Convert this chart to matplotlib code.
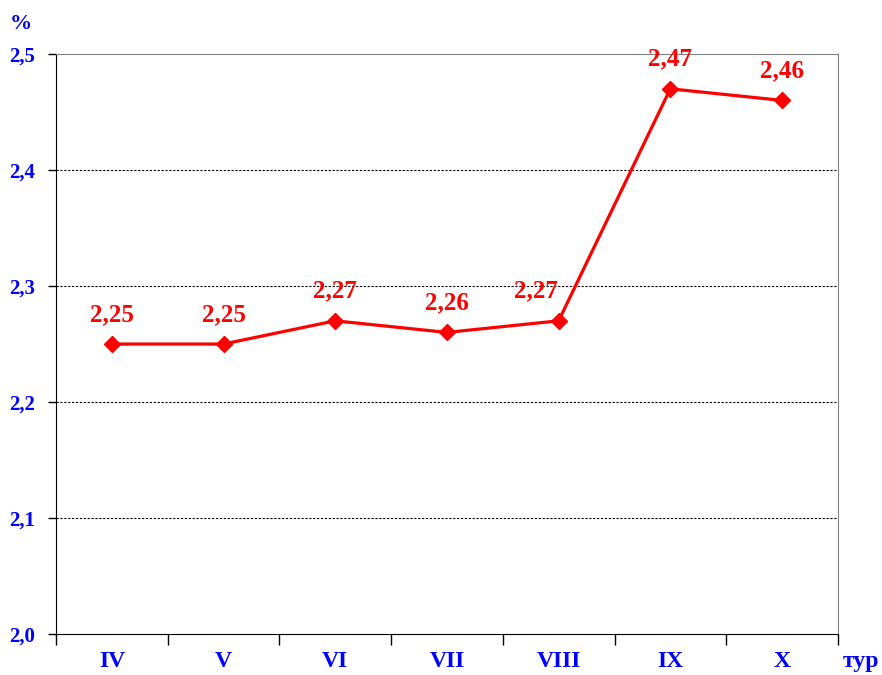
import matplotlib.pyplot as plt
import numpy as np

tours = ['IV', 'V', 'VI', 'VII', 'VIII', 'IX', 'X']
values = [2.25, 2.25, 2.27, 2.26, 2.27, 2.47, 2.46]
yticks = [2.0, 2.1, 2.2, 2.3, 2.4, 2.5]
# horizontal nudge of value labels (pt), VIII label sits left of the line
label_dx = [0, 0, 0, 0, -16, 0, 0]

plt.rcParams['font.family'] = ['Liberation Serif', 'DejaVu Serif']

fig = plt.figure(figsize=(8.82, 6.75), dpi=100)
ax = fig.add_axes([0.0635, 0.0607, 0.8865, 0.8593])

x = np.arange(len(tours))
ax.plot(x, values, color='#ff0000', lw=2.3, marker='D', ms=8.5, zorder=3)
for xi, v, dx in zip(x, values, label_dx):
    ax.annotate(('%.2f' % v).replace('.', ','), (xi, v), xytext=(dx, 13),
                textcoords='offset points', ha='center', va='bottom',
                color='#ff0000', fontsize=18, fontweight='bold', zorder=4)

ax.set_xlim(-0.5, len(tours) - 0.5)
ax.set_ylim(2.0, 2.5)
ax.set_yticks(yticks)
ax.set_yticklabels([('%.1f' % t).replace('.', ',') for t in yticks],
                   color='#0000ff', fontsize=15, fontweight='bold')
for t in yticks[1:-1]:
    ax.axhline(t, color='black', lw=0.8, ls=(0, (2, 1.5)), zorder=1)

# category labels between boundary ticks
ax.set_xticks(np.arange(-0.5, len(tours), 1.0))
ax.set_xticklabels([])
ax.tick_params(axis='x', direction='out', length=8, width=1)
ax.tick_params(axis='y', direction='out', length=6, width=1, pad=9)
for xi, name in zip(x, tours):
    ax.text(xi, -0.03, name, transform=ax.get_xaxis_transform(), ha='center',
            va='top', color='#0000ff', fontsize=17, fontweight='bold')

ax.text(-0.045, 1.035, '%', transform=ax.transAxes, color='#0000ff',
        fontsize=16, fontweight='bold', ha='center', va='bottom')
ax.text(1.03, -0.03, 'тур', transform=ax.transAxes, color='#0000ff',
        fontsize=17, fontweight='bold', ha='center', va='top')

for s in ['top', 'right']:
    ax.spines[s].set_color('#808080')
ax.spines['left'].set_color('black')
ax.spines['bottom'].set_color('black')

fig.savefig('out.png', dpi=100)
